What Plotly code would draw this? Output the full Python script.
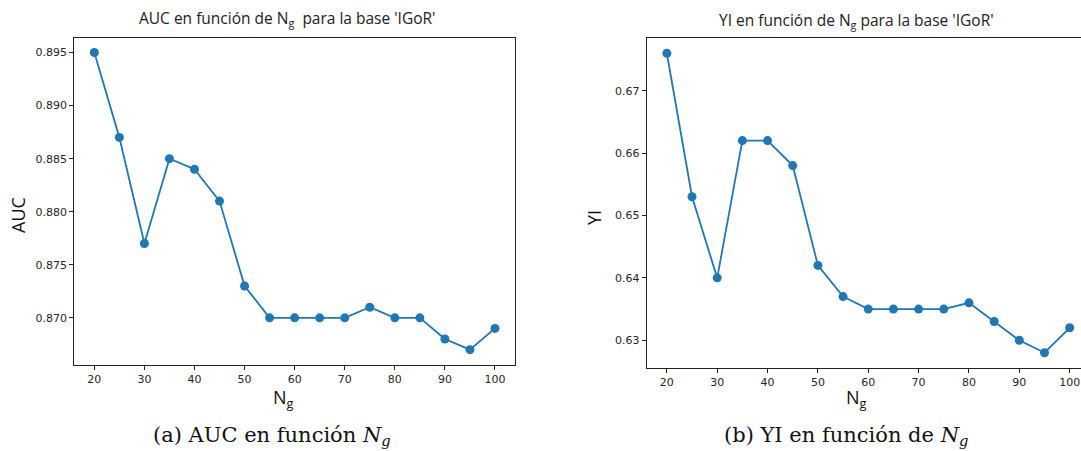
import plotly.graph_objects as go

# Number of groups N_g evaluated
n_groups = [20, 25, 30, 35, 40, 45, 50, 55, 60, 65, 70, 75, 80, 85, 90, 95, 100]

# AUC for each N_g (base 'IGoR')
auc_values = [0.895, 0.887, 0.877, 0.885, 0.884, 0.881, 0.873, 0.870, 0.870,
              0.870, 0.870, 0.871, 0.870, 0.870, 0.868, 0.867, 0.869]

# Youden index for each N_g (base 'IGoR')
yi_values = [0.676, 0.653, 0.640, 0.662, 0.662, 0.658, 0.642, 0.637, 0.635,
             0.635, 0.635, 0.635, 0.636, 0.633, 0.630, 0.628, 0.632]

x_ticks = [20, 30, 40, 50, 60, 70, 80, 90, 100]
auc_ticks = [0.870, 0.875, 0.880, 0.885, 0.890, 0.895]
yi_ticks = [0.63, 0.64, 0.65, 0.66, 0.67]

W, H = 1081, 451
BLUE = "#1f77b4"
TICK_FONT = dict(family="DejaVu Sans", size=11, color="#262626")
TEXT_FONT = "Open Sans"
CAPTION_FONT = "DejaVu Serif"


def px(x):
    return x / W


def py(y):
    return 1 - y / H


fig = go.Figure()

line_style = dict(color=BLUE, width=1.8)
marker_style = dict(color=BLUE, size=9)

fig.add_trace(go.Scatter(x=n_groups, y=auc_values, mode="lines+markers",
                         line=line_style, marker=marker_style,
                         xaxis="x", yaxis="y", showlegend=False))
fig.add_trace(go.Scatter(x=n_groups, y=yi_values, mode="lines+markers",
                         line=line_style, marker=marker_style,
                         xaxis="x2", yaxis="y2", showlegend=False))

axis_common = dict(showline=True, linecolor="#222222", linewidth=1,
                   ticks="outside", ticklen=4, tickwidth=1, tickcolor="#222222",
                   tickfont=TICK_FONT, showgrid=False, zeroline=False)

fig.update_layout(
    width=W, height=H, autosize=False,
    margin=dict(l=0, r=0, t=0, b=0),
    paper_bgcolor="white", plot_bgcolor="white",
    xaxis=dict(domain=[px(74.3), px(515)], anchor="y", range=[16, 104],
               tickvals=x_ticks, mirror=True, **axis_common),
    yaxis=dict(domain=[py(364.5), py(37.7)], anchor="x", range=[0.8656, 0.8964],
               tickvals=auc_ticks, tickformat=".3f", mirror=True, **axis_common),
    xaxis2=dict(domain=[px(646.7), 1.0], anchor="y2",
                range=[16, 100 + (1081 - 1069.7) / 5.025],
                tickvals=x_ticks, mirror=True, ticklabeloverflow="allow",
                **axis_common),
    yaxis2=dict(domain=[py(367.7), py(38.3)], anchor="x2", range=[0.6256, 0.6784],
                tickvals=yi_ticks, tickformat=".2f", mirror=False, **axis_common),
)

annotations = [
    # panel titles
    dict(text="AUC en función de N<sub>g</sub>  para la base 'IGoR'",
         x=px(287), y=py(19), font=dict(family=TEXT_FONT, size=15.5, color="#222")),
    dict(text="YI en función de N<sub>g</sub> para la base 'IGoR'",
         x=px(856), y=py(21), font=dict(family=TEXT_FONT, size=15.5, color="#222")),
    # x axis titles
    dict(text="N<sub>g</sub>", x=px(283), y=py(398),
         font=dict(family=TEXT_FONT, size=18, color="#111")),
    dict(text="N<sub>g</sub>", x=px(856), y=py(398),
         font=dict(family=TEXT_FONT, size=18, color="#111")),
    # y axis titles
    dict(text="AUC", x=px(18), y=py(215), textangle=-90,
         font=dict(family=TEXT_FONT, size=18, color="#111")),
    dict(text="YI", x=px(594), y=py(218), textangle=-90,
         font=dict(family=TEXT_FONT, size=18, color="#111")),
    # captions
    dict(text="(a) AUC en función <i>N</i><sub><i>g</i></sub>",
         x=px(272), y=py(436), font=dict(family=CAPTION_FONT, size=21, color="#111")),
    dict(text="(b) YI en función de <i>N</i><sub><i>g</i></sub>",
         x=px(846), y=py(436), font=dict(family=CAPTION_FONT, size=21, color="#111")),
]
for a in annotations:
    a.update(xref="paper", yref="paper", showarrow=False,
             xanchor="center", yanchor="middle")
fig.update_layout(annotations=annotations)

fig.write_html("out.html")
